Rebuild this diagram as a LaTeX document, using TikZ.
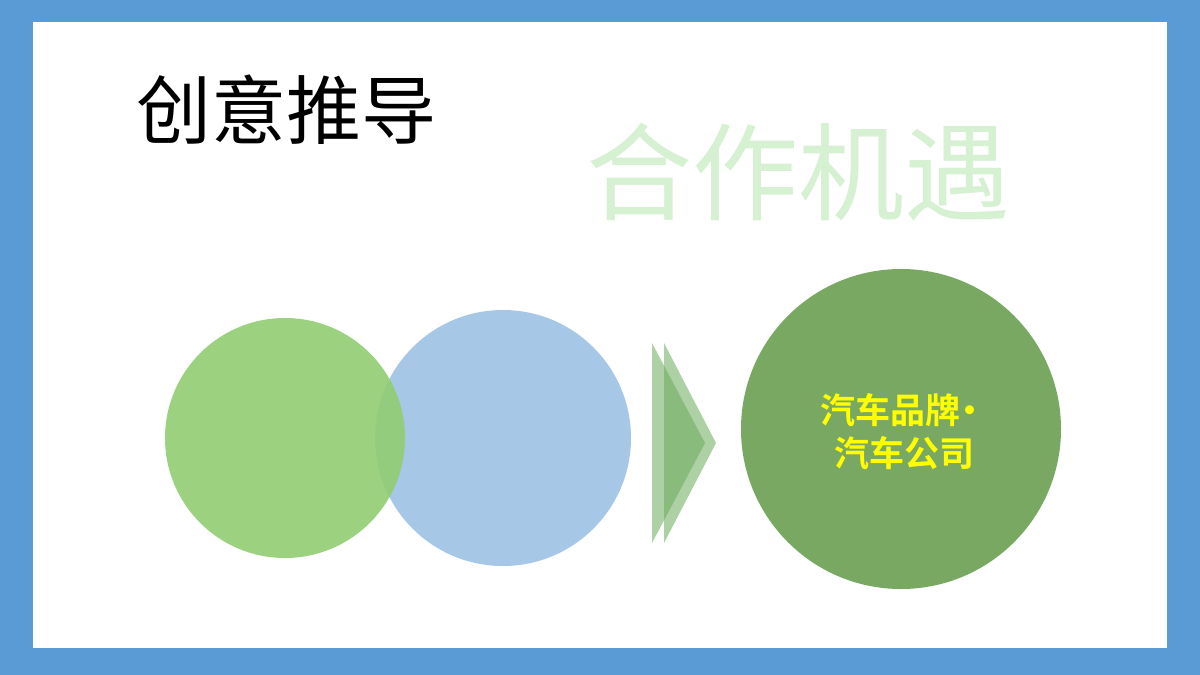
\documentclass[tikz,border=0pt]{standalone}
\usepackage{fontspec}
\newfontfamily\cjk{Noto Sans CJK SC}
\newfontfamily\cjkbold{Noto Sans CJK SC Bold}
\definecolor{framebl}{HTML}{5B9BD5}
\definecolor{leafgr}{HTML}{92CD72}
\definecolor{skybl}{HTML}{A7C7E7}
\definecolor{mossgr}{HTML}{78A862}
\definecolor{palegr}{HTML}{D6F0D2}
\definecolor{arrowgr}{HTML}{6BAA5C}
\definecolor{brandyl}{HTML}{FFFF00}

\begin{document}
\begin{tikzpicture}[x=1pt, y=-1pt,
    blob/.style={circle, inner sep=0pt, minimum size=#1},
    chev/.style={fill=arrowgr, fill opacity=0.55}]
          % frame
          \fill[framebl] (0, 0) rectangle (1200, 675);
          \fill[white] (33, 22) rectangle (1167, 648);

          \node[anchor=west, font=\cjk\fontsize{75}{84}\selectfont] (title) at (133, 110) {创意推导};
          \node[font=\cjk\fontsize{106}{120}\selectfont, text=palegr] (chance) at (798, 172) {合作机遇};

          % two circles
          \node[blob=256pt, fill=skybl] (blue) at (503, 438) {};
          \node[blob=240pt, fill=leafgr, fill opacity=0.9] (green) at (285, 438) {};

          % chevron
          \fill[chev] (652, 343) -- (705, 443) -- (652, 543) -- cycle;
          \fill[chev] (664, 343) -- (716, 443) -- (664, 543) -- cycle;

          \node[blob=320pt, fill=mossgr] (brand) at (901, 429) {};
          \node[align=center, text=brandyl, font=\cjkbold\fontsize{35}{43}\selectfont] (brandtext) at (904, 432) {汽车品牌\hspace{-0.25em}•\\汽车公司};
        \end{tikzpicture}
\end{document}
